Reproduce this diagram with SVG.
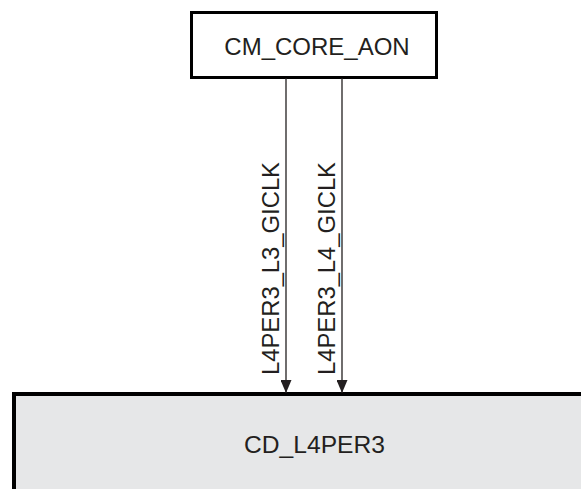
<svg xmlns="http://www.w3.org/2000/svg" width="581" height="489" viewBox="0 0 581 489">
<style>
.lbl{font-family:"Liberation Sans",Arial,sans-serif;fill:#231f20}
.box{stroke:#000;fill:#fff}
.conn{stroke:#231f20;stroke-width:1.3;fill:none}
</style>
<defs>
<marker id="ah" viewBox="0 0 13 11" refX="13" refY="5.5" markerWidth="13" markerHeight="11" markerUnits="userSpaceOnUse" orient="auto">
<path d="M0,0 L13,5.5 L0,11 Z" fill="#231f20"/>
</marker>
</defs>
<rect width="581" height="489" fill="#fff"/>
<g id="cd_l4per3">
<rect x="14" y="394" width="600" height="120" fill="#e6e7e8" stroke="#000" stroke-width="4"/>
<text class="lbl" x="314.5" y="453" font-size="23" text-anchor="middle" textLength="141" lengthAdjust="spacingAndGlyphs">CD_L4PER3</text>
</g>
<g id="cm_core_aon">
<rect class="box" x="191.5" y="12.5" width="245" height="65" stroke-width="3"/>
<text class="lbl" x="317" y="55" font-size="24" text-anchor="middle">CM_CORE_AON</text>
</g>
<g id="connectors">
<line class="conn" x1="286" y1="78" x2="286" y2="393" marker-end="url(#ah)"/>
<line class="conn" x1="342" y1="78" x2="342" y2="393" marker-end="url(#ah)"/>
<text class="lbl" font-size="23" transform="translate(278.5,375) rotate(-90)" textLength="213" lengthAdjust="spacingAndGlyphs">L4PER3_L3_GICLK</text>
<text class="lbl" font-size="23" transform="translate(334.5,375) rotate(-90)" textLength="213" lengthAdjust="spacingAndGlyphs">L4PER3_L4_GICLK</text>
</g>
</svg>
